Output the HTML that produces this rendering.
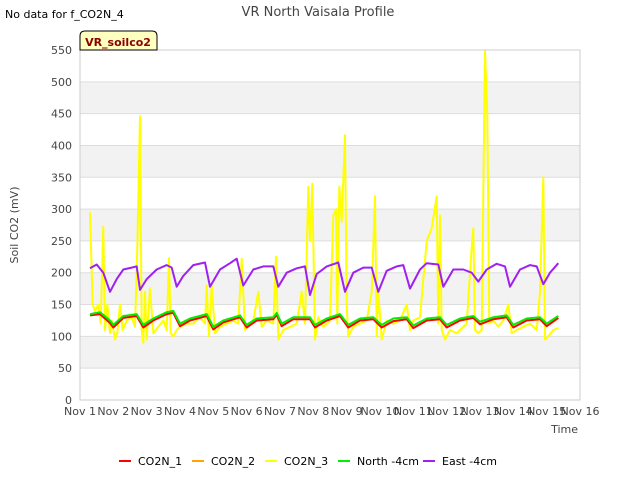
<!DOCTYPE html>
<html><head><meta charset="utf-8"><style>
body{margin:0;background:#fff;font-family:"Liberation Sans","DejaVu Sans",sans-serif}
svg text{font-family:"DejaVu Sans","Liberation Sans",sans-serif}
</style></head><body>
<svg id="chart" width="640" height="480" xmlns="http://www.w3.org/2000/svg">
<rect width="640" height="480" fill="#fff"/>
<text x="5" y="18" font-size="11" fill="#000">No data for f_CO2N_4</text>
<text x="318" y="16" font-size="13" fill="#444" text-anchor="middle">VR North Vaisala Profile</text>
<g id="grid"></g>
<g id="series"></g>
<rect x="80" y="50" width="500" height="350" fill="none" stroke="#ccc"/>
<g id="axes"></g>
<text transform="translate(18,225) rotate(-90)" font-size="11" fill="#444" text-anchor="middle">Soil CO2 (mV)</text>
<text x="578" y="433" font-size="11" fill="#444" text-anchor="end">Time</text>
<g>
<path d="M80,50 L80,36 Q80,31 85,31 L152,31 Q157,31 157,36 L157,50 Z" fill="#ffffc0" stroke="#000"/>
<text x="118" y="46" font-size="11" font-weight="bold" fill="#8b0000" text-anchor="middle">VR_soilco2</text>
</g>
<g id="legend"></g>
</svg>
<script>
const yTicks=[0,50,100,150,200,250,300,350,400,450,500,550];
const xTickLabels=["Nov 1","Nov 2","Nov 3","Nov 4","Nov 5","Nov 6","Nov 7","Nov 8","Nov 9","Nov 10","Nov 11","Nov 12","Nov 13","Nov 14","Nov 15","Nov 16"];
const eastT=[0.3,0.5,0.7,0.9,1.1,1.3,1.55,1.7,1.8,2.0,2.3,2.6,2.75,2.9,3.1,3.4,3.75,3.9,4.2,4.5,4.7,4.9,5.2,5.5,5.8,5.95,6.2,6.5,6.75,6.9,7.1,7.4,7.75,7.95,8.2,8.5,8.75,8.95,9.2,9.5,9.7,9.9,10.2,10.4,10.75,10.9,11.2,11.5,11.75,11.95,12.2,12.5,12.75,12.9,13.2,13.5,13.7,13.9,14.1,14.35];
const eastV=[207,213,200,170,190,205,208,210,173,190,205,212,208,178,195,212,216,178,205,215,222,180,205,210,210,178,200,207,210,165,198,210,216,170,200,208,208,170,203,210,212,175,205,215,213,178,205,205,200,186,205,214,210,178,205,212,210,182,200,215];
const northT=[0.3,0.6,0.9,1.0,1.3,1.7,1.9,2.2,2.6,2.8,3.0,3.3,3.8,4.0,4.3,4.8,5.0,5.3,5.8,5.9,6.05,6.4,6.9,7.05,7.4,7.8,8.05,8.4,8.8,9.05,9.4,9.8,10.0,10.4,10.8,11.0,11.4,11.8,12.0,12.4,12.8,13.0,13.4,13.8,14.0,14.35];
const northV=[135,138,125,118,132,135,118,128,138,140,120,128,135,115,125,133,118,128,130,137,120,130,130,118,128,135,118,128,130,118,128,130,117,128,130,118,128,132,123,130,133,118,128,130,120,132];
const co2n1V=[133,135,121,114,129,132,114,125,135,137,116,125,132,111,122,130,114,125,127,134,116,127,127,114,125,132,114,125,127,114,124,127,113,125,127,114,125,129,119,127,130,114,125,127,116,129];
const co2n3T=[0.3,0.38,0.45,0.55,0.62,0.7,0.75,0.82,0.9,0.95,1.05,1.12,1.2,1.28,1.4,1.55,1.65,1.72,1.8,1.85,1.9,1.95,2.0,2.1,2.2,2.35,2.5,2.6,2.67,2.72,2.8,2.9,3.0,3.2,3.4,3.6,3.75,3.8,3.87,3.95,4.05,4.2,4.4,4.6,4.75,4.85,4.95,5.05,5.2,5.35,5.45,5.6,5.8,5.88,5.95,6.1,6.3,6.5,6.65,6.75,6.85,6.9,6.97,7.05,7.15,7.3,7.5,7.6,7.68,7.72,7.78,7.85,7.95,8.0,8.05,8.2,8.4,8.6,8.75,8.85,8.9,8.95,9.05,9.2,9.4,9.6,9.8,9.9,10.0,10.2,10.4,10.55,10.7,10.75,10.8,10.85,10.95,11.1,11.3,11.5,11.6,11.75,11.8,11.85,11.95,12.05,12.15,12.22,12.28,12.4,12.55,12.7,12.85,12.95,13.1,13.3,13.5,13.7,13.8,13.9,13.95,14.05,14.2,14.35];
const co2n3V=[295,150,140,150,120,272,110,150,105,125,95,105,150,110,125,130,115,240,446,110,90,170,95,175,105,115,125,110,223,105,100,110,115,120,120,130,120,180,100,180,105,115,120,125,120,222,110,120,125,170,115,125,120,225,95,110,115,120,170,120,335,250,340,95,130,115,125,290,300,120,335,280,416,150,100,115,120,125,170,320,100,170,95,125,120,125,150,110,125,130,250,270,320,120,290,110,95,110,105,115,120,240,270,110,105,110,548,450,120,125,115,125,150,105,110,115,120,110,170,350,95,100,110,113];

const X0=80,X1=580,Y0=400,Y1=50;
const xs=t=>X0+t*(X1-X0)/15;
const ys=v=>Y0-v*(Y0-Y1)/550;
const NS="http://www.w3.org/2000/svg";
function mk(tag,parent,attrs){const e=document.createElementNS(NS,tag);for(const k in attrs)e.setAttribute(k,attrs[k]);parent.appendChild(e);return e;}
const grid=document.getElementById('grid'),axes=document.getElementById('axes'),series=document.getElementById('series'),legend=document.getElementById('legend');
for(let i=0;i<yTicks.length-1;i++){
  if(i%2===1){const b=mk('rect',grid,{x:X0,y:ys(yTicks[i+1]),width:X1-X0,height:ys(yTicks[i])-ys(yTicks[i+1]),fill:'#f2f2f2'});
  
  }
}
yTicks.forEach(v=>{
  const l=mk('line',grid,{x1:X0,x2:X1,y1:ys(v),y2:ys(v),stroke:'#ddd'});
  
  
  const t=mk('text',axes,{x:72,y:ys(v)+4,'font-size':11,fill:'#444','text-anchor':'end'});t.textContent=v;
  
  
});
xTickLabels.forEach((s,i)=>{
  const t=mk('text',axes,{x:xs(i),y:415,'font-size':11,fill:'#444','text-anchor':'middle'});t.textContent=s;
  
  
});
function line(T,V,color,name){
  const p=mk('polyline',series,{points:T.map((t,i)=>xs(t).toFixed(1)+','+ys(V[i]).toFixed(1)).join(' '),fill:'none',stroke:color,'stroke-width':2,'stroke-linejoin':'round'});
  
  
}
line(co2n3T,co2n3V,'#ffff00','series-co2n-3');
line(northT,co2n1V,'#ff0000','series-co2n-1');
line(northT,northV,'#00ee00','series-north-4cm');
line(eastT,eastV,'#a020f0','series-east-4cm');
const legNames=["CO2N_1","CO2N_2","CO2N_3","North -4cm","East -4cm"];
const legColors=["#ff0000","#ffa500","#ffff00","#00ee00","#a020f0"];
const legX=[119,192,265,338,423];
legNames.forEach((n,i)=>{
  const g=mk('g',legend,{});
  
  
  mk('line',g,{x1:legX[i],x2:legX[i]+12,y1:461,y2:461,stroke:legColors[i],'stroke-width':2});
  const t=mk('text',g,{x:legX[i]+19,y:465,'font-size':11,fill:'#000'});t.textContent=n;
});
</script>
</body></html>
